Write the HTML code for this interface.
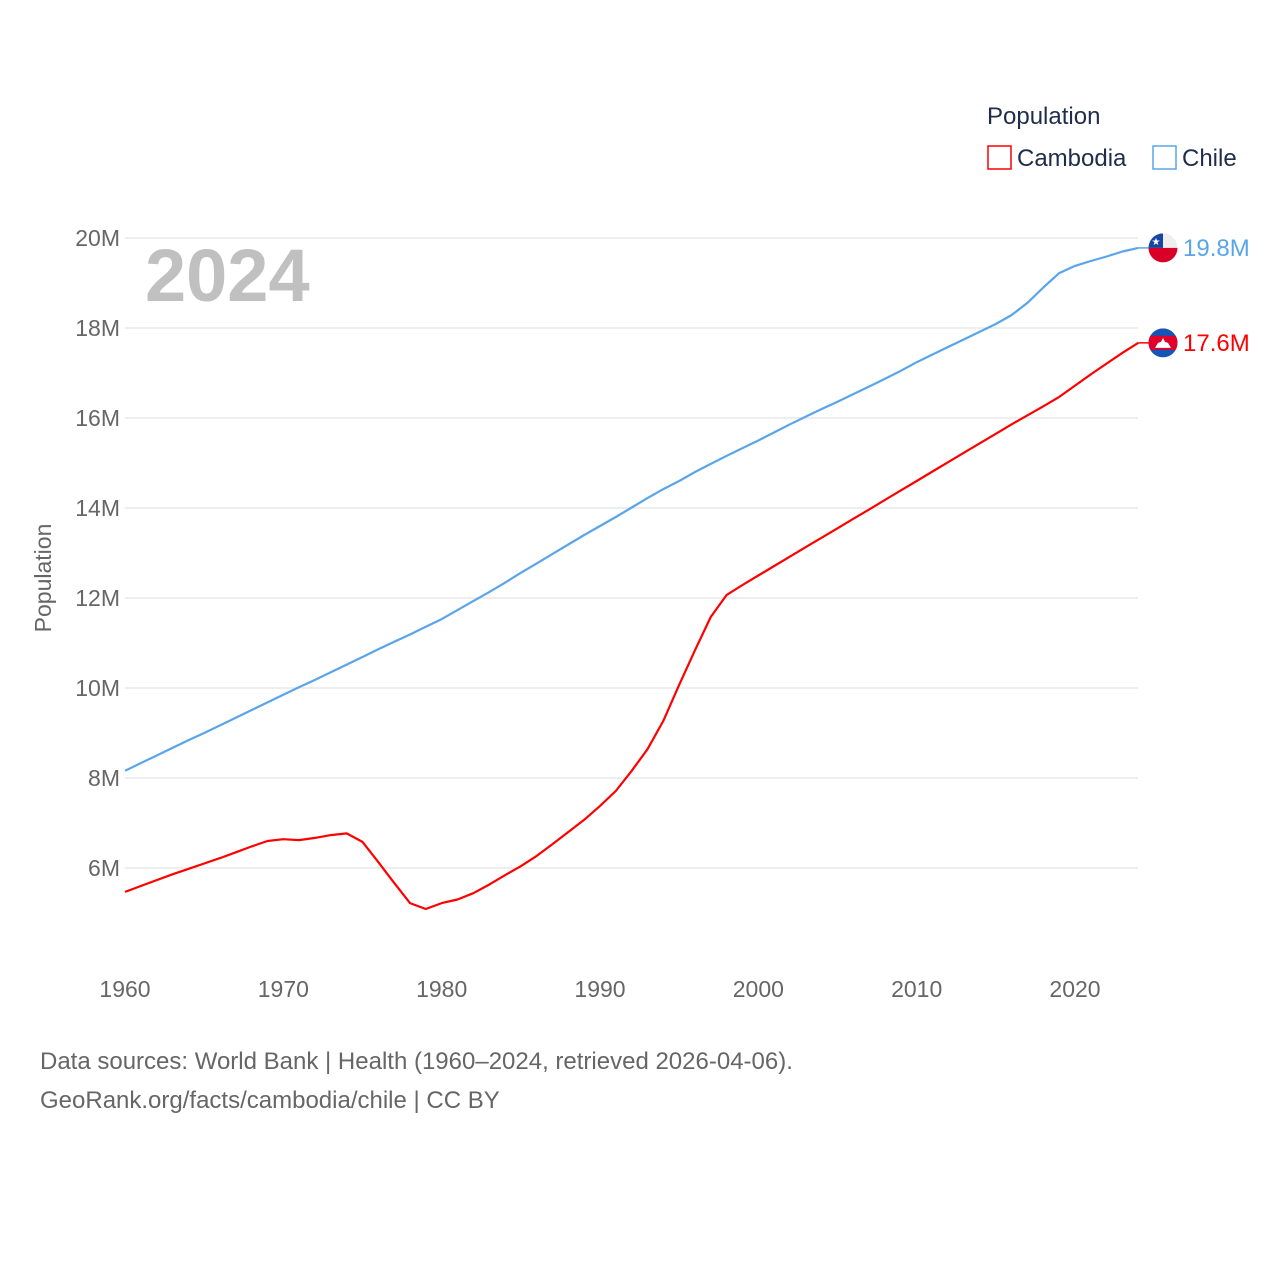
<!DOCTYPE html>
<html><head><meta charset="utf-8"><style>
body{margin:0;background:#fff;font-family:"Liberation Sans",sans-serif}
svg text{font-family:"Liberation Sans",sans-serif}
</style></head><body>
<svg id="chart" width="1280" height="1280" xmlns="http://www.w3.org/2000/svg">
<rect width="1280" height="1280" fill="#fff"/>
<g id="grid"></g>
<g id="yticks"></g>
<g id="xticks"></g>
<text x="145" y="301" font-size="74" font-weight="bold" fill="#c0c0c0">2024</text>
<text transform="translate(51,578) rotate(-90)" text-anchor="middle" font-size="23" fill="#666">Population</text>
<g id="series"></g>
<text x="987" y="124" font-size="24" fill="#1f2d4a">Population</text>
<g>
<rect x="988" y="146" width="23" height="23" fill="none" stroke="#ff0000" stroke-width="1.5"/>
<text x="1017" y="166" font-size="24" fill="#1f2d4a">Cambodia</text></g>
<g>
<rect x="1153" y="146" width="23" height="23" fill="none" stroke="#5aa5ea" stroke-width="1.5"/>
<text x="1182" y="166" font-size="24" fill="#1f2d4a">Chile</text></g>
<g id="ends"></g>
<text x="40" y="1069" font-size="24" fill="#666">Data sources: World Bank | Health (1960–2024, retrieved 2026-04-06).</text>
<text x="40" y="1108" font-size="24" fill="#666">GeoRank.org/facts/cambodia/chile | CC BY</text>
</svg>
<script>
const years=[];for(let y=1960;y<=2024;y++)years.push(y);
const cambodia=[5.47,5.60,5.73,5.86,5.98,6.10,6.22,6.35,6.48,6.60,6.64,6.62,6.67,6.73,6.77,6.58,6.13,5.67,5.22,5.09,5.22,5.30,5.44,5.63,5.84,6.04,6.27,6.53,6.80,7.07,7.38,7.71,8.16,8.64,9.27,10.07,10.84,11.58,12.07,12.29,12.50,12.71,12.92,13.13,13.34,13.55,13.76,13.97,14.18,14.39,14.60,14.81,15.02,15.23,15.44,15.65,15.86,16.06,16.26,16.47,16.72,16.97,17.21,17.45,17.67];
const chile=[8.16,8.33,8.50,8.67,8.84,9.00,9.17,9.34,9.51,9.68,9.85,10.02,10.18,10.35,10.52,10.69,10.86,11.03,11.19,11.36,11.53,11.73,11.93,12.13,12.34,12.56,12.77,12.98,13.19,13.40,13.60,13.80,14.01,14.22,14.42,14.60,14.80,14.98,15.16,15.33,15.50,15.68,15.86,16.03,16.20,16.36,16.53,16.70,16.87,17.05,17.24,17.41,17.58,17.75,17.92,18.09,18.29,18.56,18.90,19.22,19.38,19.49,19.59,19.70,19.78];
const yTicks=[6,8,10,12,14,16,18,20];
const xTicks=[1960,1970,1980,1990,2000,2010,2020];
const endLabels=["17.6M","19.8M"];
const NS="http://www.w3.org/2000/svg";
const xs=y=>125+(y-1960)*(950/60);
const ys=v=>1138-v*45;
function mk(t,a,p){const e=document.createElementNS(NS,t);for(const k in a)e.setAttribute(k,a[k]);p.appendChild(e);return e;}
const grid=document.getElementById('grid'),yt=document.getElementById('yticks'),xt=document.getElementById('xticks');
yTicks.forEach(v=>{
 const l=mk('line',{x1:125,x2:1138,y1:ys(v),y2:ys(v),stroke:'#e8e8e8','stroke-width':1.5},grid);
 
 
 const t=mk('text',{x:120,y:ys(v)+8,'text-anchor':'end','font-size':23,fill:'#666'},yt);
 t.textContent=v+'M';
 
 
});
xTicks.forEach(v=>{
 const t=mk('text',{x:xs(v),y:997,'text-anchor':'middle','font-size':23,fill:'#666'},xt);
 t.textContent=v;
 
 
});
const ser=document.getElementById('series');
function line(arr,col,name){
 const d=arr.map((v,i)=>(i?'L':'M')+xs(years[i]).toFixed(1)+','+ys(v).toFixed(1)).join(' ');
 const p=mk('path',{d:d,fill:'none',stroke:col,'stroke-width':2.2,'stroke-linejoin':'round'},ser);
 
 
}
line(chile,'#5aa5ea','chile-line');
line(cambodia,'#ff0000','cambodia-line');
const ends=document.getElementById('ends');
function endMark(arr,col,label,kind){
 const last=arr[arr.length-1],y=ys(last),x0=xs(2024);
 mk('line',{x1:x0,x2:1150,y1:y,y2:y,stroke:col,'stroke-width':1.5},ends);
 const g=mk('g',{},ends);
 
 
 const cx=1163,r=14.5;
 const cp=mk('clipPath',{id:'c'+kind},g);
 mk('circle',{cx:cx,cy:y,r:r},cp);
 const gg=mk('g',{'clip-path':'url(#c'+kind+')'},g);
 if(kind==='chile'){
  mk('rect',{x:cx-r,y:y-r,width:2*r,height:r,fill:'#eee'},gg);
  mk('rect',{x:cx-r,y:y-r,width:r,height:r,fill:'#1746a2'},gg);
  mk('rect',{x:cx-r,y:y,width:2*r,height:r,fill:'#d80027'},gg);
  const s=mk('text',{x:cx-7,y:y-3,'text-anchor':'middle','font-size':10,fill:'#fff'},gg);s.textContent='★';
 }else{
  mk('rect',{x:cx-r,y:y-r,width:2*r,height:2*r,fill:'#1455b5'},gg);
  mk('rect',{x:cx-r,y:y-7,width:2*r,height:14,fill:'#e0002a'},gg);
  mk('path',{d:`M${cx-8},${y+5} L${cx-5},${y} L${cx-2},${y-1} L${cx},${y-5} L${cx+2},${y-1} L${cx+5},${y} L${cx+8},${y+5} Z`,fill:'#fff'},gg);
 }
 const t=mk('text',{x:1183,y:y+8,'font-size':24,fill:col},ends);
 t.textContent=label;
 
 
}
endMark(chile,'#5aa5ea',endLabels[1],'chile');
endMark(cambodia,'#ff0000',endLabels[0],'cambodia');
</script>
</body></html>
